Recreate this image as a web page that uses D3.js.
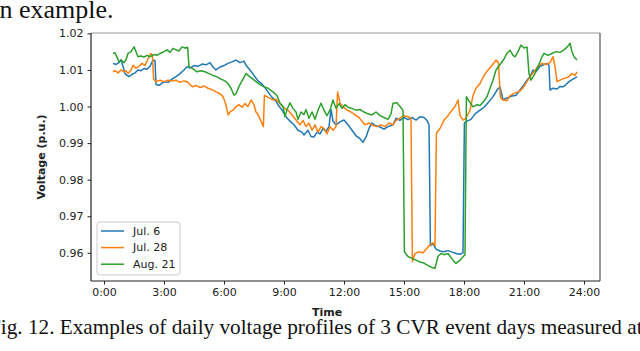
<!DOCTYPE html>
<html>
<head>
<meta charset="utf-8">
<script src="https://cdn.jsdelivr.net/npm/d3@7"></script>
<style>
  html, body { margin: 0; padding: 0; background: #fff; }
  svg { display: block; }
</style>
</head>
<body>
<div id="runApp"></div>
<script>
const width = 640;
const height = 351;

// [hour of day, voltage p.u.]
const jul6 = [
  [0.45, 1.0118], [0.6, 1.0115], [0.75, 1.012], [0.85, 1.0128], [0.95, 1.011], [1.05, 1.009],
  [1.15, 1.0085], [1.25, 1.0082], [1.4, 1.0088], [1.55, 1.0092], [1.7, 1.01], [1.85, 1.0098],
  [2.0, 1.0104], [2.15, 1.0102], [2.3, 1.011], [2.45, 1.0127], [2.55, 1.0125], [2.6, 1.006],
  [2.75, 1.0058], [2.9, 1.0064], [3.05, 1.0068], [3.2, 1.0066], [3.4, 1.0075], [3.6, 1.0082],
  [3.8, 1.009], [4.0, 1.01], [4.15, 1.0109], [4.3, 1.0105], [4.5, 1.0112], [4.7, 1.011],
  [4.9, 1.0116], [5.1, 1.0114], [5.3, 1.012], [5.45, 1.0108], [5.6, 1.01], [5.8, 1.0108],
  [6.0, 1.0112], [6.2, 1.0118], [6.4, 1.0122], [6.6, 1.0127], [6.8, 1.012], [7.0, 1.0124],
  [7.1, 1.0113], [7.3, 1.01], [7.5, 1.0085], [7.7, 1.007], [7.85, 1.0064], [8.0, 1.0055],
  [8.2, 1.004], [8.4, 1.0025], [8.55, 1.0018], [8.7, 1.0005], [8.9, 0.999], [9.1, 0.9972],
  [9.3, 0.996], [9.5, 0.995], [9.7, 0.9935], [9.9, 0.993], [10.0, 0.9922], [10.2, 0.9935],
  [10.35, 0.9918], [10.5, 0.9917], [10.65, 0.993], [10.8, 0.9925], [10.95, 0.994], [11.1, 0.9932],
  [11.25, 0.9945], [11.35, 0.9992], [11.45, 0.996], [11.6, 0.995], [11.8, 0.9958], [12.0, 0.9963],
  [12.2, 0.995], [12.4, 0.9935], [12.6, 0.992], [12.8, 0.9912], [12.95, 0.9902], [13.1, 0.9917],
  [13.25, 0.994], [13.4, 0.9955], [13.55, 0.9948], [13.8, 0.9944], [14.0, 0.9938], [14.2, 0.9945],
  [14.45, 0.995], [14.6, 0.9968], [14.8, 0.9962], [15.0, 0.997], [15.2, 0.9964], [15.4, 0.997],
  [15.6, 0.9963], [15.8, 0.9972], [16.0, 0.997], [16.15, 0.9962], [16.25, 0.995], [16.32, 0.962],
  [16.45, 0.9625], [16.6, 0.961], [16.8, 0.9605], [17.0, 0.9603], [17.2, 0.9606], [17.4, 0.9602],
  [17.6, 0.9598], [17.8, 0.9596], [17.95, 0.96], [18.02, 0.9955], [18.15, 0.996], [18.35, 0.9965],
  [18.55, 0.998], [18.8, 0.999], [19.0, 0.9998], [19.2, 1.001], [19.45, 1.0027], [19.65, 1.0045],
  [19.8, 1.0054], [19.95, 1.0018], [20.1, 1.0022], [20.35, 1.0028], [20.6, 1.0031], [20.8, 1.0045],
  [21.0, 1.006], [21.15, 1.0072], [21.3, 1.0082], [21.45, 1.01], [21.6, 1.0095], [21.8, 1.011],
  [22.0, 1.0115], [22.15, 1.0118], [22.25, 1.0112], [22.3, 1.0045], [22.45, 1.005], [22.65, 1.0048],
  [22.8, 1.0055], [22.95, 1.0054], [23.1, 1.006], [23.25, 1.0068], [23.45, 1.0075], [23.65, 1.0081]
];

const jul28 = [
  [0.45, 1.0095], [0.55, 1.0098], [0.7, 1.0092], [0.85, 1.01], [1.0, 1.0095], [1.1, 1.0098],
  [1.2, 1.009], [1.35, 1.01], [1.45, 1.0113], [1.6, 1.0105], [1.75, 1.011], [1.9, 1.0118],
  [2.05, 1.0112], [2.2, 1.013], [2.35, 1.0145], [2.42, 1.014], [2.48, 1.0075], [2.6, 1.0068],
  [2.8, 1.0072], [3.0, 1.0068], [3.2, 1.0072], [3.4, 1.007], [3.6, 1.0072], [3.8, 1.0066],
  [4.0, 1.007], [4.15, 1.0068], [4.3, 1.006], [4.45, 1.0054], [4.6, 1.0058], [4.8, 1.0052],
  [5.0, 1.0056], [5.2, 1.005], [5.4, 1.0046], [5.6, 1.004], [5.8, 1.0035], [5.95, 1.0027],
  [6.1, 1.0005], [6.2, 0.9977], [6.3, 0.9985], [6.45, 0.999], [6.6, 1.0], [6.75, 1.0005],
  [6.9, 0.9998], [7.05, 1.0008], [7.2, 1.0], [7.35, 1.0018], [7.5, 1.0005], [7.6, 0.9985],
  [7.7, 0.9978], [7.85, 0.996], [7.97, 0.9945], [8.02, 1.0031], [8.2, 1.0025], [8.45, 1.0018],
  [8.6, 1.002], [8.8, 1.0008], [9.0, 0.9996], [9.2, 0.999], [9.35, 0.998], [9.5, 0.997],
  [9.65, 0.996], [9.8, 0.995], [9.95, 0.9962], [10.1, 0.9945], [10.25, 0.9955], [10.4, 0.9935],
  [10.55, 0.995], [10.7, 0.993], [10.85, 0.9945], [11.0, 0.994], [11.15, 0.9925], [11.3, 0.9945],
  [11.45, 0.9935], [11.6, 0.9945], [11.68, 1.004], [11.8, 1.001], [11.95, 0.9999], [12.15, 0.999],
  [12.35, 0.9985], [12.55, 0.9977], [12.75, 0.997], [12.9, 0.996], [13.05, 0.995], [13.25, 0.9955],
  [13.45, 0.9948], [13.65, 0.9945], [13.85, 0.995], [14.05, 0.9945], [14.25, 0.9955], [14.45, 0.995],
  [14.6, 0.9962], [14.8, 0.9968], [15.0, 0.9975], [15.2, 0.9972], [15.35, 0.9968], [15.42, 0.9576],
  [15.55, 0.9598], [15.75, 0.9603], [15.95, 0.96], [16.1, 0.961], [16.3, 0.9622], [16.45, 0.9627],
  [16.55, 0.962], [16.62, 0.9927], [16.8, 0.994], [17.0, 0.9963], [17.2, 0.9975], [17.4, 0.999],
  [17.55, 1.0], [17.7, 1.0018], [17.8, 0.9975], [17.95, 0.9963], [18.1, 0.9968], [18.3, 0.999],
  [18.45, 1.003], [18.6, 1.005], [18.8, 1.0063], [19.0, 1.0085], [19.2, 1.01], [19.4, 1.0112],
  [19.6, 1.0127], [19.72, 1.012], [19.82, 1.0025], [19.95, 1.0018], [20.15, 1.0016], [20.3, 1.003],
  [20.5, 1.0036], [20.7, 1.004], [20.85, 1.0045], [21.0, 1.0055], [21.15, 1.0068], [21.3, 1.0081],
  [21.5, 1.0095], [21.7, 1.011], [21.9, 1.0118], [22.1, 1.0115], [22.3, 1.012], [22.45, 1.0136],
  [22.55, 1.011], [22.65, 1.0068], [22.8, 1.0072], [23.0, 1.0077], [23.2, 1.008], [23.4, 1.009],
  [23.55, 1.0085], [23.65, 1.0095]
];

const aug21 = [
  [0.45, 1.0145], [0.55, 1.0147], [0.65, 1.0135], [0.75, 1.0122], [0.9, 1.0125], [1.0, 1.012],
  [1.1, 1.0128], [1.2, 1.0145], [1.35, 1.015], [1.5, 1.0163], [1.6, 1.015], [1.7, 1.0136],
  [1.85, 1.0138], [2.0, 1.0135], [2.15, 1.014], [2.3, 1.0136], [2.5, 1.0142], [2.65, 1.014],
  [2.8, 1.0145], [3.0, 1.015], [3.15, 1.0155], [3.3, 1.0148], [3.45, 1.0159], [3.6, 1.0155],
  [3.75, 1.0152], [3.9, 1.0163], [4.05, 1.016], [4.18, 1.0162], [4.25, 1.0109], [4.4, 1.0105],
  [4.65, 1.0095], [4.85, 1.0098], [5.05, 1.0095], [5.25, 1.009], [5.45, 1.0085], [5.65, 1.0081],
  [5.85, 1.0075], [6.05, 1.007], [6.2, 1.0063], [6.35, 1.005], [6.5, 1.0031], [6.6, 1.0035],
  [6.75, 1.0055], [6.95, 1.0075], [7.1, 1.009], [7.25, 1.0083], [7.4, 1.0077], [7.6, 1.0068],
  [7.8, 1.006], [8.0, 1.0054], [8.2, 1.005], [8.45, 1.004], [8.65, 1.003], [8.8, 1.0009],
  [8.95, 1.0], [9.05, 0.9972], [9.15, 0.9992], [9.3, 1.001], [9.45, 0.9995], [9.6, 0.9985],
  [9.7, 0.9965], [9.85, 0.9985], [10.0, 0.9978], [10.1, 0.9992], [10.25, 0.9968], [10.4, 0.9985],
  [10.55, 0.9965], [10.7, 0.999], [10.85, 1.0009], [11.0, 0.999], [11.15, 0.9975], [11.3, 0.999],
  [11.45, 1.0018], [11.6, 0.9995], [11.75, 1.0008], [11.9, 0.9995], [12.05, 1.0005], [12.2, 0.9998],
  [12.4, 0.9995], [12.6, 0.999], [12.8, 0.9992], [13.0, 0.9985], [13.2, 0.998], [13.4, 0.9977],
  [13.6, 0.9985], [13.8, 0.9975], [14.0, 0.997], [14.2, 0.9965], [14.35, 0.998], [14.45, 1.0009],
  [14.65, 1.001], [14.8, 1.0], [14.95, 0.999], [15.02, 0.9603], [15.2, 0.959], [15.4, 0.9585],
  [15.6, 0.958], [15.8, 0.9575], [16.0, 0.9572], [16.2, 0.9565], [16.4, 0.956], [16.55, 0.9558],
  [16.7, 0.959], [16.85, 0.9598], [17.0, 0.9595], [17.2, 0.9598], [17.45, 0.958], [17.6, 0.9571],
  [17.8, 0.958], [17.95, 0.9589], [18.05, 0.9595], [18.12, 1.0027], [18.25, 1.0015], [18.45, 0.9999],
  [18.65, 1.0005], [18.8, 1.0003], [19.0, 1.0015], [19.15, 1.0027], [19.3, 1.005], [19.45, 1.0072],
  [19.6, 1.01], [19.8, 1.0115], [20.0, 1.013], [20.15, 1.0145], [20.3, 1.0154], [20.45, 1.014],
  [20.55, 1.0136], [20.7, 1.015], [20.85, 1.0168], [21.0, 1.016], [21.15, 1.0163], [21.25, 1.009],
  [21.35, 1.0072], [21.5, 1.0085], [21.7, 1.0109], [21.85, 1.013], [22.0, 1.0145], [22.2, 1.014],
  [22.4, 1.0145], [22.6, 1.015], [22.8, 1.0148], [23.0, 1.0155], [23.2, 1.0165], [23.3, 1.0173],
  [23.4, 1.015], [23.5, 1.0136], [23.65, 1.0127]
];

const seriesNames = ["Jul. 6", "Jul. 28", "Aug. 21"];
const seriesData = [jul6, jul28, aug21];
const colors = ["#1f77b4", "#ff7f0e", "#2ca02c"];

const xTicks = [0, 3, 6, 9, 12, 15, 18, 21, 24];
const yTicks = [0.96, 0.97, 0.98, 0.99, 1.0, 1.01, 1.02];

const plot = { left: 91, right: 600, top: 33, bottom: 281 };

const svg = d3.select("#runApp")
  .append("svg")
  .attr("width", width)
  .attr("height", height)
  .style("background", "#fff");

const x = d3.scaleLinear().domain([-0.65, 24.8]).range([plot.left, plot.right]);
const y = d3.scaleLinear().domain([0.9523, 1.0201]).range([plot.bottom, plot.top]);

// surrounding paper text (cropped page)
svg.append("text")
  .attr("x", -12)
  .attr("y", 18)
  .attr("font-family", "Liberation Serif, Times New Roman, serif")
  .attr("font-size", 26)
  .attr("fill", "#111")
  .text("an example.");

svg.append("text")
  .attr("transform", "translate(-11, 334) scale(0.965, 1)")
  .attr("font-family", "Liberation Serif, Times New Roman, serif")
  .attr("font-size", 22)
  .attr("fill", "#111")
  .text("Fig. 12. Examples of daily voltage profiles of 3 CVR event days measured at");

// lines
const line = d3.line()
  .x(d => x(d[0]))
  .y(d => y(d[1]));

const plotArea = svg.append("g");
seriesData.forEach((data, i) => {
  plotArea.append("path")
    .datum(data)
    .attr("fill", "none")
    .attr("stroke", colors[i])
    .attr("stroke-width", 1.5)
    .attr("stroke-linejoin", "round")
    .attr("d", line);
});

// axes
const xAxis = svg.append("g")
  .attr("transform", `translate(0, ${plot.bottom})`)
  .call(d3.axisBottom(x).tickValues(xTicks).tickFormat(d => d + ":00").tickSizeOuter(0).tickSize(3.5).tickPadding(4));

const yAxis = svg.append("g")
  .attr("transform", `translate(${plot.left}, 0)`)
  .call(d3.axisLeft(y).tickValues(yTicks).tickFormat(d3.format(".2f")).tickSizeOuter(0).tickSize(3.5).tickPadding(4));

[xAxis, yAxis].forEach(g => {
  g.select(".domain").remove();
  g.selectAll(".tick line").attr("stroke", "#222");
  g.selectAll(".tick text")
    .attr("font-family", "DejaVu Sans, sans-serif")
    .attr("font-size", 11)
    .attr("fill", "#222");
});

// spines
svg.append("line").attr("x1", plot.left).attr("x2", plot.right).attr("y1", plot.top).attr("y2", plot.top)
  .attr("stroke", "#999").attr("stroke-width", 1.2);
svg.append("line").attr("x1", plot.right).attr("x2", plot.right).attr("y1", plot.top).attr("y2", plot.bottom)
  .attr("stroke", "#555").attr("stroke-width", 1.2);
svg.append("line").attr("x1", plot.left).attr("x2", plot.right).attr("y1", plot.bottom).attr("y2", plot.bottom)
  .attr("stroke", "#222").attr("stroke-width", 1.2);
svg.append("line").attr("x1", plot.left).attr("x2", plot.left).attr("y1", plot.top).attr("y2", plot.bottom)
  .attr("stroke", "#222").attr("stroke-width", 1.2);

// axis titles
svg.append("text")
  .attr("transform", "translate(45, 157) rotate(-90)")
  .attr("text-anchor", "middle")
  .attr("font-family", "DejaVu Sans, sans-serif")
  .attr("font-size", 11)
  .attr("font-weight", "bold")
  .attr("fill", "#222")
  .text("Voltage (p.u.)");

svg.append("text")
  .attr("x", 327)
  .attr("y", 316)
  .attr("text-anchor", "middle")
  .attr("font-family", "DejaVu Sans, sans-serif")
  .attr("font-size", 11)
  .attr("font-weight", "bold")
  .attr("fill", "#222")
  .text("Time");

// legend
const legend = svg.append("g").attr("transform", "translate(97, 222)");
legend.append("rect")
  .attr("width", 83)
  .attr("height", 53)
  .attr("rx", 3)
  .attr("fill", "#fff")
  .attr("fill-opacity", 0.8)
  .attr("stroke", "#ccc")
  .attr("stroke-width", 1);

seriesNames.forEach((name, i) => {
  const row = legend.append("g").attr("transform", `translate(0, ${9 + i * 16.6})`);
  row.append("line")
    .attr("x1", 4).attr("x2", 27)
    .attr("stroke", colors[i])
    .attr("stroke-width", 1.5);
  row.append("text")
    .attr("x", 36)
    .attr("dy", "0.35em")
    .attr("font-family", "DejaVu Sans, sans-serif")
    .attr("font-size", 11)
    .attr("fill", "#222")
    .text(name);
});
</script>
</body>
</html>
